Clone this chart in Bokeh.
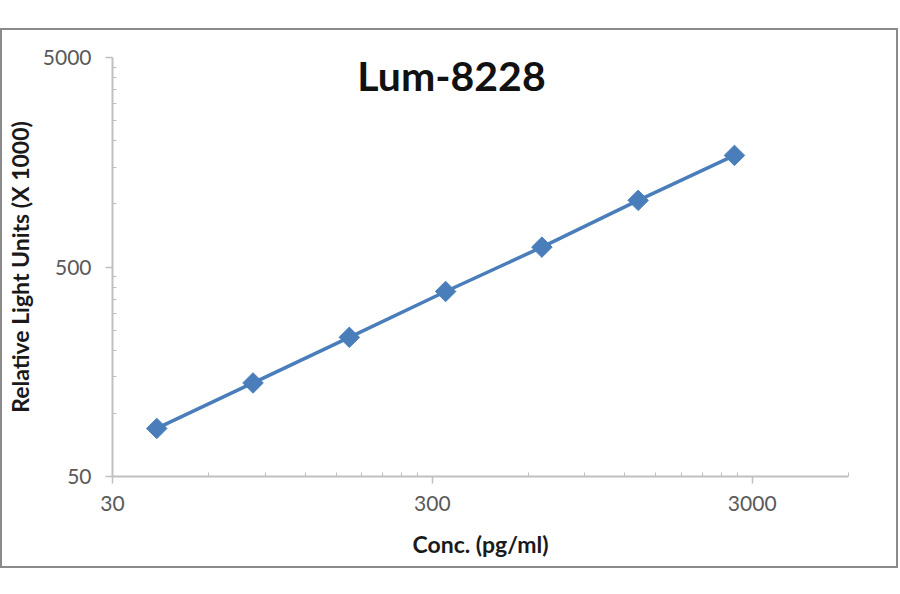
import math
from bokeh.plotting import figure
from bokeh.models import FixedTicker, Label, Range1d
from bokeh.layouts import column
from bokeh.models import Spacer
from bokeh.embed import file_html
from bokeh.resources import INLINE

# Data
conc = [41.25, 82.5, 165, 330, 660, 1320, 2640]
rlu = [84.8, 139.8, 230.8, 382, 622, 1040, 1705]

x_major = [30, 300, 3000]
x_minor = [60, 90, 120, 150, 180, 210, 240, 270,
           600, 900, 1200, 1500, 1800, 2100, 2400, 2700, 6000]
y_major = [50, 500, 5000]
y_minor = [100, 150, 200, 250, 300, 350, 400, 450,
           1000, 1500, 2000, 2500, 3000, 3500, 4000, 4500]

title_text = "Lum-8228"
x_label = "Conc. (pg/ml)"
y_label = "Relative Light Units (X 1000)"

FONT = "Lato"
BLUE = "#4a7ebb"
AXIS = "#c0c0c0"
TICKLAB = "#595959"

p = figure(width=898, height=540, x_axis_type="log", y_axis_type="log",
           x_range=Range1d(30, 6000), y_range=Range1d(50, 5000),
           output_backend="svg", toolbar_location=None,
           min_border_left=109, min_border_right=52,
           min_border_top=27, min_border_bottom=94)
p.styles = {"border": "2px solid #8a8a8a", "box-sizing": "border-box"}
p.outline_line_color = None
p.xgrid.visible = False
p.ygrid.visible = False

p.line(conc, rlu, line_color=BLUE, line_width=3.5)
p.scatter(conc, rlu, marker="square", angle=math.pi / 4, size=14.5,
          fill_color=BLUE, line_color=BLUE)

p.xaxis.ticker = FixedTicker(ticks=x_major, minor_ticks=x_minor)
p.yaxis.ticker = FixedTicker(ticks=y_major, minor_ticks=y_minor)
p.xaxis.major_label_overrides = {v: str(v) for v in x_major}
p.yaxis.major_label_overrides = {v: str(v) for v in y_major}

for ax in (p.xaxis[0], p.yaxis[0]):
    ax.axis_line_color = AXIS
    ax.axis_line_width = 2
    ax.major_tick_line_color = AXIS
    ax.major_tick_line_width = 1.5
    ax.minor_tick_line_color = AXIS
    ax.minor_tick_line_width = 1
    ax.major_tick_out = 7
    ax.major_tick_in = 0
    ax.minor_tick_out = 0
    ax.minor_tick_in = 4
    ax.major_label_text_font = FONT
    ax.major_label_text_font_size = "21px"
    ax.major_label_text_color = TICKLAB
    ax.axis_label_text_font = FONT
    ax.axis_label_text_font_style = "bold"
    ax.axis_label_text_font_size = "23px"
    ax.axis_label_text_color = "#1a1a1a"

p.xaxis.axis_label = x_label
p.yaxis.axis_label = y_label
p.xaxis.major_label_standoff = 12
p.yaxis.major_label_standoff = 14
p.xaxis.axis_label_standoff = 16
p.yaxis.axis_label_standoff = 6

title = Label(x=339, y=401, x_units="screen", y_units="screen",
              text=title_text, text_font=FONT, text_font_style="bold",
              text_font_size="41px", text_color="#111111",
              text_align="center", text_baseline="alphabetic")
p.add_layout(title)

layout = column(Spacer(height=28), p)
open("out.html", "w").write(file_html(layout, INLINE))
